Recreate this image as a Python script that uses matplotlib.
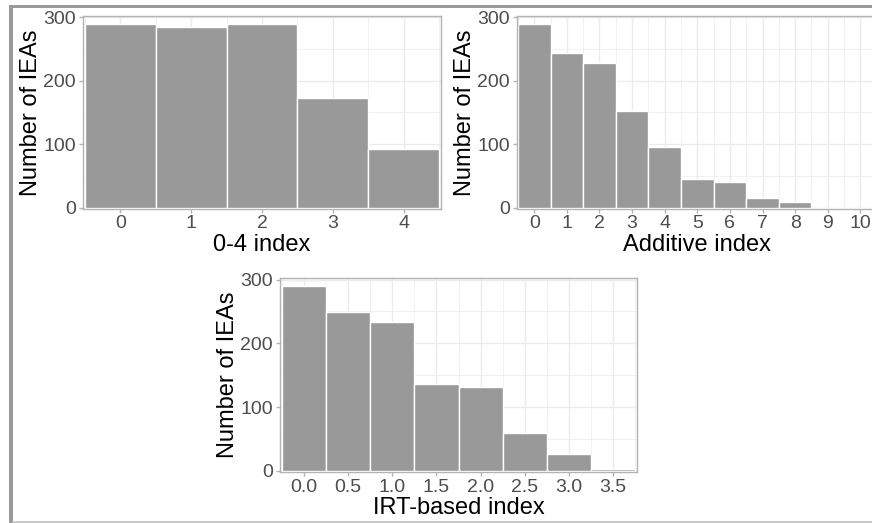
import matplotlib
matplotlib.use("Agg")
import matplotlib.pyplot as plt
from matplotlib.ticker import MultipleLocator, FormatStrFormatter
from matplotlib.patches import Rectangle
from matplotlib.lines import Line2D

# ---- data ----
idx04_x = [0, 1, 2, 3, 4]
idx04_counts = [289, 284, 290, 172, 92]

add_x = [0, 1, 2, 3, 4, 5, 6, 7, 8, 9, 10]
add_counts = [289, 244, 228, 152, 95, 45, 41, 15, 9, 0, 0]

irt_x = [0.0, 0.5, 1.0, 1.5, 2.0, 2.5, 3.0, 3.5]
irt_counts = [290, 249, 234, 136, 131, 60, 26, 2]

ylabel = "Number of IEAs"
xlabels = ["0-4 index", "Additive index", "IRT-based index"]

plt.rcParams['font.family'] = ['Liberation Sans', 'DejaVu Sans']

W, H = 872, 523
fig = plt.figure(figsize=(W / 100, H / 100), dpi=100)

def px_axes(left, right, top, bottom):
    return fig.add_axes([left / W, (H - bottom) / H, (right - left) / W, (bottom - top) / H])

BAR = "#999999"
GRID = "#ebebeb"
BORDER = "#b3b3b3"
TICKC = "#4d4d4d"

def style(ax, xlim, major, minor, xlab):
    ax.set_xlim(*xlim)
    ax.set_ylim(-1.5, 302)
    ax.xaxis.set_major_locator(MultipleLocator(major))
    ax.xaxis.set_minor_locator(MultipleLocator(minor))
    ax.yaxis.set_major_locator(MultipleLocator(100))
    ax.yaxis.set_minor_locator(MultipleLocator(50))
    ax.grid(which="major", color=GRID, linewidth=1.0, zorder=0)
    ax.grid(which="minor", color=GRID, linewidth=0.5, zorder=0)
    ax.set_axisbelow(True)
    for s in ax.spines.values():
        s.set_color(BORDER)
        s.set_linewidth(1.0)
    ax.tick_params(which="major", direction="out", length=3, width=1, color=BORDER,
                   labelcolor=TICKC, labelsize=14, pad=2)
    ax.tick_params(which="minor", length=0)
    ax.set_ylabel(ylabel, fontsize=17, color="black", labelpad=1)
    ax.set_xlabel(xlab, fontsize=17, color="black", labelpad=1)

ax1 = px_axes(83, 441, 16, 208.5)
ax1.bar(idx04_x, idx04_counts, width=1.0, color=BAR, edgecolor="white", linewidth=1.0, zorder=2)
style(ax1, (-0.53, 4.53), 1, 0.5, xlabels[0])

ax2 = px_axes(517, 877.6, 16, 208.5)
ax2.bar(add_x, add_counts, width=1.0, color=BAR, edgecolor="white", linewidth=1.0, zorder=2)
style(ax2, (-0.53, 10.53), 1, 0.5, xlabels[1])

ax3 = px_axes(280, 637, 278.3, 471.7)
ax3.bar(irt_x, irt_counts, width=0.5, color=BAR, edgecolor="white", linewidth=1.0, zorder=2)
style(ax3, (-0.27, 3.77), 0.5, 0.25, xlabels[2])
ax3.xaxis.set_major_formatter(FormatStrFormatter("%.1f"))

# frame decorations of the screenshot
fig.add_artist(Rectangle((9 / W, 0), 4 / W, (H - 5) / H, transform=fig.transFigure,
                         facecolor="#9a9a9a", edgecolor="none"))
fig.add_artist(Rectangle((9 / W, (H - 8) / H), (W - 9) / W, 3 / H, transform=fig.transFigure,
                         facecolor="#9a9a9a", edgecolor="none"))
fig.add_artist(Line2D([13 / W, 1], [1.5 / H, 1.5 / H], transform=fig.transFigure,
                      color="#bdbdbd", linewidth=1.2))

fig.savefig("out.png", dpi=100)
